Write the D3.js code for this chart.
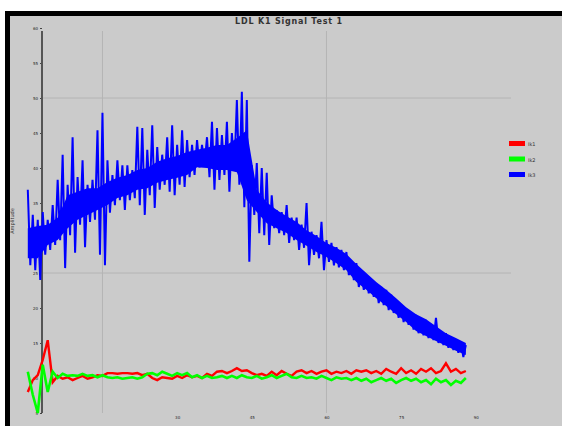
<!DOCTYPE html>
<html>
<head>
<meta charset="utf-8">
<script src="https://cdn.jsdelivr.net/npm/d3@7"></script>
<style>
  html, body { margin: 0; padding: 0; background: #ffffff; }
  svg { display: block; }
</style>
</head>
<body>
<svg id="chart" width="562" height="426"></svg>
<script>
// Channel 3: raw samples (alternating peaks/troughs), time step 0.5
const blueStart = 0, blueStep = 0.5;
const blueValues = [
  36.9,26.1, 33.3,25.4, 32.6,24.0, 33.7,27.6, 32.6,28.3, 34.7,29.0, 38.3,29.7, 41.9,25.7, 37.6,30.4, 44.4,27.9,
  38.7,31.9, 41.1,28.7, 37.6,32.3, 38.3,32.6, 45.4,27.6, 47.9,26.1, 41.1,33.6, 39.0,34.7, 41.1,35.4, 40.4,34.0,
  40.4,35.4, 39.7,35.7, 45.9,34.7, 45.7,33.3, 42.6,36.1, 46.1,34.3, 43.0,36.9, 41.9,37.6, 44.4,36.6, 46.1,36.1,
  43.3,37.6, 45.4,37.3, 44.0,38.7, 43.3,39.0, 44.0,40.1, 43.3,40.4, 44.4,38.7, 46.6,36.9, 45.7,38.3, 44.7,39.0,
  46.6,36.6, 45.0,39.7, 49.7,37.6, 50.9,34.4, 49.7,26.6, 40.4,33.3, 40.7,30.7, 40.0,30.4, 39.3,29.0, 36.1,31.4,
  34.0,30.7, 33.7,30.4, 34.7,29.3, 32.9,29.7, 32.9,28.3, 31.9,28.6, 35.0,26.1, 30.9,27.6, 30.4,27.1, 32.3,25.4,
  29.7,26.6, 29.3,26.1, 28.7,25.8, 28.3,25.4, 28.0,24.7, 26.6,24.0, 26.4,23.0, 25.1,22.6, 24.4,22.1, 24.0,21.6,
  23.3,20.7, 23.0,20.4, 22.6,19.7, 21.9,19.3, 20.7,18.6, 20.4,18.0, 19.7,17.6, 19.3,16.9, 19.0,16.4, 18.3,16.1,
  18.3,15.7, 17.6,15.4, 18.6,15.0, 16.6,14.7, 16.4,14.3, 15.9,14.0, 15.4,13.6, 15.1,13.0, 14.7
];

// Channel 3: dense noise band (upper / lower), time step 2
const blueBandStart = 0, blueBandStep = 2;
const blueBandHigh = [
  31.4, 31.7, 31.9, 32.9, 36.1, 36.6, 37.1, 37.1, 38.0, 38.6, 39.0, 39.7, 40.0, 40.9, 41.4,
  41.7, 42.3, 42.6, 42.9, 43.3, 43.3, 44.3, 45.4, 36.9, 35.1, 34.0, 33.1, 32.3, 31.1, 30.3,
  29.3, 28.6, 27.7, 26.3, 25.0, 23.7, 22.6, 21.4, 20.1, 19.1, 18.4, 17.4, 16.4, 15.7, 15.0
];
const blueBandLow = [
  27.1, 27.1, 29.0, 29.7, 31.4, 32.6, 33.3, 34.0, 34.7, 35.7, 36.1, 36.9, 37.1, 37.9, 38.3,
  38.6, 39.0, 40.1, 40.0, 39.7, 39.7, 39.4, 35.4, 33.7, 32.1, 31.4, 30.7, 29.7, 28.9, 28.0,
  27.3, 26.4, 25.4, 23.7, 22.6, 21.4, 20.3, 19.1, 18.0, 16.7, 16.0, 15.3, 14.6, 13.9, 13.3
];

// Channels 1 and 2, time step 1
const rgStart = 0, rgStep = 1;
const redValues = [
  8.0, 9.7, 10.4, 12.6, 15.4, 9.4, 10.3, 9.9, 10.1, 9.7, 10.0, 10.3, 9.9, 10.1, 10.4, 10.3, 10.7,
  10.7, 10.6, 10.7, 10.7, 10.6, 10.7,
  10.4, 10.6, 10.0, 9.7, 10.1, 10.0, 9.9, 10.3, 10.0, 10.4, 10.1, 10.3, 10.0, 10.6, 10.3, 10.9,
  11.0, 10.7, 11.0, 11.4, 11.0, 11.1, 10.7, 10.4, 10.6, 10.3, 10.9, 10.4, 11.0, 10.6, 10.3, 10.9,
  11.1, 10.7, 11.0, 10.6, 10.9, 11.1, 10.6, 10.9, 10.7, 11.0, 10.6, 11.1, 10.9, 11.1, 10.7, 11.0,
  10.6, 11.3, 10.9, 10.6, 11.4, 10.7, 11.1, 10.6, 11.3, 10.9, 11.4, 10.7, 11.0, 12.1, 10.9, 11.3,
  10.7, 11.0
];
const greenValues = [
  10.9, 7.6, 5.0, 11.9, 8.0, 10.9, 10.0, 10.6, 10.3, 10.4, 10.3, 10.6, 10.3, 10.4, 10.1, 10.4, 10.1,
  10.0, 10.1, 9.9, 10.0, 10.1, 9.9, 10.1, 10.6, 10.7, 10.4, 10.9, 10.6, 10.3, 10.7, 10.4, 10.7,
  10.1, 10.4, 10.0, 10.3, 10.0, 10.1, 10.3, 10.0, 10.3, 10.0, 10.4, 10.1, 10.0, 10.3, 9.9, 10.1,
  10.4, 10.0, 10.3, 10.6, 10.1, 10.0, 10.3, 10.0, 10.1, 9.9, 10.3, 10.0, 9.7, 10.1, 9.9, 10.0,
  9.7, 10.0, 9.6, 9.9, 9.4, 9.7, 10.0, 9.6, 9.9, 9.3, 9.7, 10.0, 9.6, 9.9, 9.4, 9.7,
  9.1, 9.9, 9.4, 9.7, 9.0, 9.6, 9.3, 10.0
];

const seriesNames = ["Ik1", "Ik2", "Ik3"];
const seriesColors = ["#ff0000", "#00ff00", "#0000ff"];
const xTickValues = [30, 45, 60, 75, 90];
const yTickValues = [5, 10, 15, 20, 25, 30, 35, 40, 45, 50, 55, 60];
const xGridValues = [15, 60];
const yGridValues = [25, 50];
const titleText = "LDL K1 Signal Test 1";
const yLabelText = "Amplitude";

const svg = d3.select("#chart");

// Outer frame: black border with grey panel
svg.append("rect").attr("x", 5).attr("y", 11).attr("width", 557).attr("height", 415).attr("fill", "#000");
svg.append("rect").attr("x", 10).attr("y", 16).attr("width", 552).attr("height", 410).attr("fill", "#cbcbcb");

const x = d3.scaleLinear().domain([0, 90]).range([27.8, 475.8]);
const y = d3.scaleLinear().domain([0, 60]).range([448, 28]);

const plotLeft = 42, plotRight = 511, plotTop = 31, plotBottom = 413;

// Grid lines
svg.append("g").selectAll("line").data(yGridValues).join("line")
  .attr("x1", plotLeft).attr("x2", plotRight)
  .attr("y1", d => y(d)).attr("y2", d => y(d))
  .attr("stroke", "#b4b4b4").attr("stroke-width", 1);
svg.append("g").selectAll("line").data(xGridValues).join("line")
  .attr("x1", d => x(d)).attr("x2", d => x(d))
  .attr("y1", plotTop).attr("y2", plotBottom)
  .attr("stroke", "#b4b4b4").attr("stroke-width", 1);

// Y axis
const yAxis = d3.axisLeft(y).tickValues(yTickValues).tickSize(2).tickPadding(2);
const yAxisG = svg.append("g").attr("transform", `translate(${plotLeft},0)`).call(yAxis);
yAxisG.select(".domain").remove();
yAxisG.selectAll("line").attr("stroke", "#444");
yAxisG.selectAll("text").attr("font-family", "DejaVu Sans").attr("font-size", 4).attr("fill", "#222");
svg.append("line")
  .attr("x1", plotLeft).attr("x2", plotLeft)
  .attr("y1", plotTop).attr("y2", plotBottom)
  .attr("stroke", "#555").attr("stroke-width", 2);

// X axis labels (no axis line drawn)
const xAxis = d3.axisBottom(x).tickValues(xTickValues).tickSize(0).tickPadding(3);
const xAxisG = svg.append("g").attr("transform", `translate(0,${plotBottom})`).call(xAxis);
xAxisG.select(".domain").remove();
xAxisG.selectAll("text").attr("font-family", "DejaVu Sans").attr("font-size", 4).attr("fill", "#222");

// Series
const line = d3.line().x(d => x(d.t)).y(d => y(d.v));
const toPoints = (vals, t0, dt) => vals.map((v, i) => ({ t: t0 + i * dt, v }));

const band = d3.area().x(d => x(d.t)).y0(d => y(d.lo)).y1(d => y(d.hi));
svg.append("path")
  .datum(blueBandHigh.map((hi, i) => ({ t: blueBandStart + i * blueBandStep, hi, lo: blueBandLow[i] })))
  .attr("d", band).attr("fill", seriesColors[2]);
svg.append("path").datum(toPoints(blueValues, blueStart, blueStep))
  .attr("d", line).attr("fill", "none").attr("stroke", seriesColors[2])
  .attr("stroke-width", 2.0).attr("stroke-linejoin", "bevel");
svg.append("path").datum(toPoints(redValues, rgStart, rgStep))
  .attr("d", line).attr("fill", "none").attr("stroke", seriesColors[0]).attr("stroke-width", 2.4);
svg.append("path").datum(toPoints(greenValues, rgStart, rgStep))
  .attr("d", line).attr("fill", "none").attr("stroke", seriesColors[1]).attr("stroke-width", 2.6);

// Title
svg.append("text").attr("x", 289).attr("y", 24).attr("text-anchor", "middle")
  .attr("font-family", "DejaVu Sans").attr("font-weight", "bold").attr("font-size", 8)
  .attr("letter-spacing", 0.8).attr("fill", "#333").text(titleText);

// Y label
svg.append("text").attr("transform", "translate(14,221) rotate(-90)").attr("text-anchor", "middle")
  .attr("font-family", "DejaVu Sans").attr("font-size", 5).attr("fill", "#333").text(yLabelText);

// Legend
const legend = svg.append("g").attr("transform", "translate(509,141)");
const items = legend.selectAll("g").data(seriesNames).join("g")
  .attr("transform", (d, i) => `translate(0,${i * 15.5})`);
items.append("rect").attr("width", 16).attr("height", 5)
  .attr("fill", (d, i) => seriesColors[i]);
items.append("text").attr("x", 19).attr("y", 5)
  .attr("font-family", "DejaVu Sans").attr("font-size", 5).attr("fill", "#333").text(d => d);
</script>
</body>
</html>
